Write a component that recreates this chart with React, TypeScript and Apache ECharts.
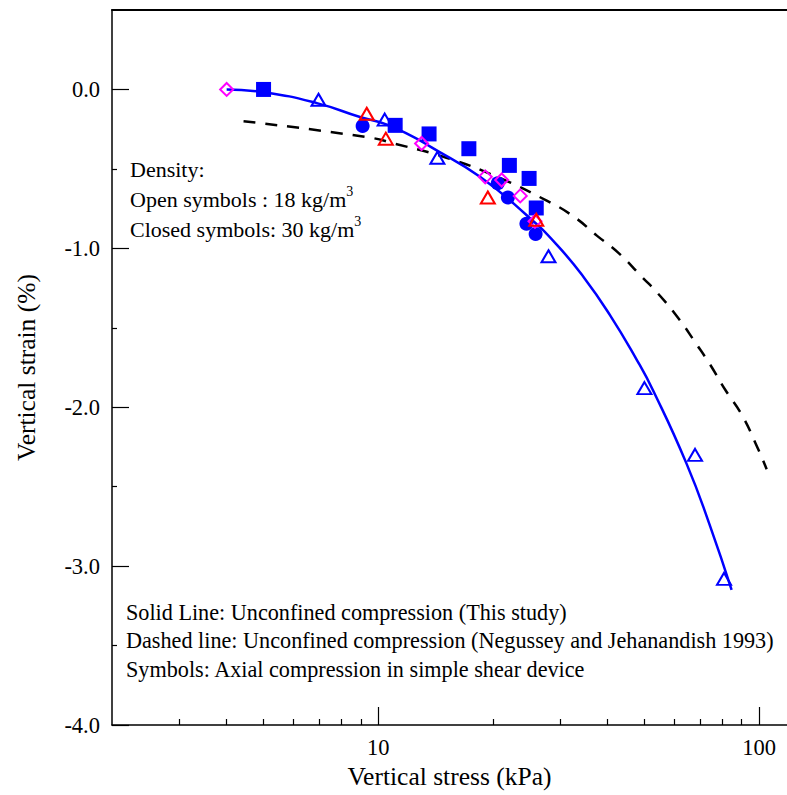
import React, { useEffect, useRef } from "react";
import * as echarts from "echarts";

// Fitted curve: unconfined compression (this study)
const solidStress = [4.0, 5.0, 6.9, 9.0, 10.5, 12.4, 13.7, 18.5, 24.5, 29.5, 34.6, 40.6, 47.7, 52.7, 64.5, 74.3, 84.7];
const solidStrain = [0.0, -0.017, -0.086, -0.175, -0.22, -0.3, -0.36, -0.55, -0.79, -0.98, -1.18, -1.42, -1.7, -1.895, -2.355, -2.745, -3.15];

// Dashed curve: Negussey and Jehanandish 1993
const dashedStress = [4.43, 9.33, 11.08, 15.1, 20.5, 27.7, 32.6, 37.5, 42.8, 48.8, 55.0, 61.4, 67.9, 74.3, 81.5, 90.2, 97.6, 104.7];
const dashedStrain = [-0.2, -0.3, -0.342, -0.43, -0.55, -0.7, -0.8, -0.92, -1.03, -1.17, -1.3, -1.44, -1.59, -1.73, -1.89, -2.05, -2.22, -2.39];

// Closed symbols (30 kg/m3)
const squareStress = [5.0, 11.08, 13.6, 17.3, 22.1, 24.9, 26.0];
const squareStrain = [0.0, -0.226, -0.28, -0.373, -0.478, -0.56, -0.746];
const circleStress = [9.1, 20.6, 21.9, 24.5, 25.9];
const circleStrain = [-0.23, -0.59, -0.68, -0.845, -0.91];

// Open symbols (18 kg/m3)
const blueTriStress = [6.97, 10.4, 14.3, 28.0, 50.0, 67.9, 80.9];
const blueTriStrain = [-0.065, -0.19, -0.43, -1.05, -1.88, -2.3, -3.08];
const redTriStress = [9.33, 10.47, 19.4, 26.0];
const redTriStrain = [-0.153, -0.31, -0.68, -0.82];
const diamondStress = [4.0, 13.0, 19.1, 21.1, 23.6, 25.8];
const diamondStrain = [0.0, -0.34, -0.55, -0.57, -0.67, -0.83];

// Axes
const xMajorTicks = [10, 100];
const xMinorTicks = [3, 4, 5, 6, 7, 8, 9, 20, 30, 40, 50, 60, 70, 80, 90];
const yMajorTicks = [-4, -3, -2, -1, 0];
const yMinorTicks = [-3.5, -2.5, -1.5, -0.5];
const xMin = 2;
const xMax = 118.4;
const yMin = -4;
const yMax = 0.5;

const FONT = "Liberation Serif";

const lg = (v: number) => Math.log10(v);
const pairs = (xs: number[], ys: number[]) => xs.map((x, i) => [lg(x), ys[i]]);

export default function App() {
  const ref = useRef<HTMLDivElement>(null);
  useEffect(() => {
    if (!ref.current) return;
    const chart = echarts.init(ref.current, undefined, { renderer: "svg" });
    const black = "#000";
    const baseX = {
      type: "value" as const,
      min: lg(xMin),
      max: lg(xMax),
      splitLine: { show: false },
    };
    const baseY = {
      type: "value" as const,
      min: yMin,
      max: yMax,
      splitLine: { show: false },
    };
    const openItem = (c: string) => ({ color: "rgba(255,255,255,0)", borderColor: c, borderWidth: 2, opacity: 1 });
    chart.setOption({
      animation: false,
      backgroundColor: "#fff",
      grid: { left: 112, right: 0, top: 10, bottom: 70 },
      xAxis: [
        {
          ...baseX,
          position: "bottom",
          axisLine: { show: true, onZero: false, lineStyle: { color: black, width: 1.5 } },
          axisTick: { show: true, inside: true, length: 18, customValues: xMajorTicks.map(lg), lineStyle: { color: black, width: 1.2 } },
          axisLabel: {
            show: true,
            customValues: xMajorTicks.map(lg),
            formatter: (v: number) => String(Math.round(Math.pow(10, v))),
            fontFamily: FONT,
            fontSize: 22.5,
            color: black,
            margin: 11,
          },
          name: "Vertical stress (kPa)",
          nameLocation: "middle",
          nameGap: 36,
          nameTextStyle: { fontFamily: FONT, fontSize: 25.5, color: black },
        },
        {
          ...baseX,
          position: "bottom",
          axisLine: { show: false, onZero: false },
          axisTick: { show: true, inside: true, length: 6, customValues: xMinorTicks.map(lg), lineStyle: { color: black, width: 1.2 } },
          axisLabel: { show: false },
        },
        {
          ...baseX,
          position: "top",
          axisLine: { show: true, onZero: false, lineStyle: { color: black, width: 2 } },
          axisTick: { show: false },
          axisLabel: { show: false },
        },
      ],
      yAxis: [
        {
          ...baseY,
          position: "left",
          axisLine: { show: true, onZero: false, lineStyle: { color: black, width: 1.5 } },
          axisTick: { show: true, inside: true, length: 17, customValues: yMajorTicks, lineStyle: { color: black, width: 1.2 } },
          axisLabel: {
            show: true,
            customValues: yMajorTicks,
            formatter: (v: number) => v.toFixed(1),
            fontFamily: FONT,
            fontSize: 22.5,
            color: black,
            margin: 12,
          },
          name: "Vertical strain (%)",
          nameLocation: "middle",
          nameGap: 73,
          nameTextStyle: { fontFamily: FONT, fontSize: 25.5, color: black },
        },
        {
          ...baseY,
          position: "left",
          axisLine: { show: false, onZero: false },
          axisTick: { show: true, inside: true, length: 5, customValues: yMinorTicks, lineStyle: { color: black, width: 1.2 } },
          axisLabel: { show: false },
        },
      ],
      series: [
        {
          type: "line",
          data: pairs(dashedStress, dashedStrain),
          smooth: true,
          showSymbol: false,
          lineStyle: { color: black, width: 2.5, type: [12, 10] },
          z: 2,
        },
        {
          type: "line",
          data: pairs(solidStress, solidStrain),
          smooth: true,
          showSymbol: false,
          lineStyle: { color: "#0000ff", width: 2.5 },
          z: 3,
        },
        {
          type: "scatter",
          data: pairs(squareStress, squareStrain),
          symbol: "rect",
          symbolSize: 15,
          itemStyle: { color: "#0000ff", opacity: 1 },
          z: 4,
        },
        {
          type: "scatter",
          data: pairs(circleStress, circleStrain),
          symbol: "circle",
          symbolSize: 14,
          itemStyle: { color: "#0000ff", opacity: 1 },
          z: 4,
        },
        {
          type: "scatter",
          data: pairs(blueTriStress, blueTriStrain),
          symbol: "triangle",
          symbolSize: [14, 12],
          itemStyle: openItem("#0000ff"),
          z: 5,
        },
        {
          type: "scatter",
          data: pairs(diamondStress, diamondStrain),
          symbol: "diamond",
          symbolSize: [13, 13],
          itemStyle: openItem("#ff00ff"),
          z: 5,
        },
        {
          type: "scatter",
          data: pairs(redTriStress, redTriStrain),
          symbol: "triangle",
          symbolSize: [14, 12],
          itemStyle: openItem("#ff0000"),
          z: 6,
        },
      ],
      graphic: [
        {
          type: "text",
          left: 130,
          top: 154,
          style: {
            text: "Density:\n{a|Open symbols : 18 kg/m}{s|3}\n{a|Closed symbols: 30 kg/m}{s|3}",
            fontFamily: FONT,
            fontSize: 22,
            lineHeight: 30,
            fill: black,
            rich: {
              a: { fontFamily: FONT, fontSize: 22, lineHeight: 30, fill: black },
              s: { fontFamily: FONT, fontSize: 14, lineHeight: 30, fill: black, verticalAlign: "top" },
            },
          },
        },
        {
          type: "text",
          left: 126,
          top: 598,
          style: {
            text: "Solid Line: Unconfined compression (This study)\nDashed line: Unconfined compression (Negussey and Jehanandish 1993)\nSymbols: Axial compression in simple shear device",
            fontFamily: FONT,
            fontSize: 22.2,
            lineHeight: 28.5,
            fill: black,
          },
        },
      ],
    });
    return () => chart.dispose();
  }, []);
  return <div ref={ref} style={{ position: "fixed", left: 0, top: 0, width: 787, height: 795 }} />;
}
